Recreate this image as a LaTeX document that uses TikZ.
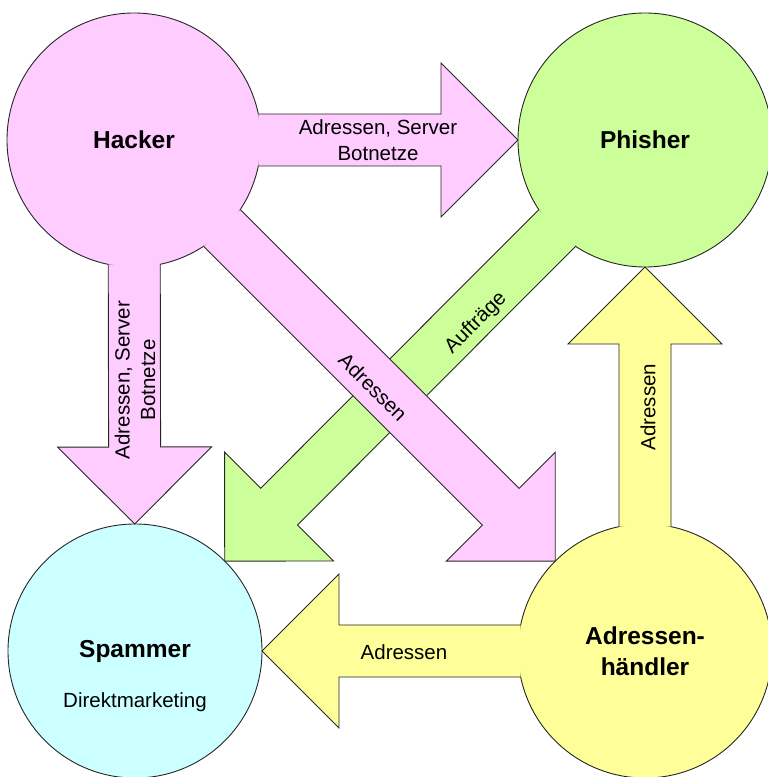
\documentclass[tikz,border=0pt]{standalone}
\usepackage{fontspec}
\setmainfont{Liberation Sans}
\usetikzlibrary{calc}
\definecolor{pinkfill}{RGB}{255,204,255}
\definecolor{greenfill}{RGB}{204,255,153}
\definecolor{cyanfill}{RGB}{204,255,255}
\definecolor{yellowfill}{RGB}{255,255,153}

\begin{document}
\begin{tikzpicture}[x=1pt,y=1pt,
    actor/.style={circle,draw=black!85,line width=0.9pt,minimum size=254pt,inner sep=0pt,
      align=center,font=\fontsize{24.5}{31}\selectfont\bfseries},
    rim/.style={draw=black!85,line width=0.9pt,line join=miter},
    flow/.style={inner sep=0pt,align=center,font=\fontsize{20.5}{25.5}\selectfont}]
    \useasboundingbox (0,0) rectangle (768,777);
    \clip (0,0) rectangle (768,777);
    % Circles
    \node[actor,fill=pinkfill] (hacker) at (134,637) {Hacker};
    \node[actor,fill=greenfill] (phisher) at (645,637) {Phisher};
    \node[actor,fill=cyanfill] (spammer) at (135,126) {Spammer};
    \node[actor,fill=yellowfill] (haendler) at (645,126) {Adressen-\\händler};
    % Arrows
    \foreach \a/\b/\c in {hacker/phisher/pinkfill,hacker/spammer/pinkfill,
        phisher/spammer/greenfill,hacker/haendler/pinkfill,
        haendler/phisher/yellowfill,haendler/spammer/yellowfill} {
      \coordinate (tip) at ($(\b)!127pt!(\a)$);
      \coordinate (foot) at ($(\a)!124.3pt!(\b)$);
      \coordinate (neck) at ($(tip)!77pt!(\a)$);
      \coordinate (l1) at ($(foot)!26pt!90:(\b)$);
      \coordinate (r1) at ($(foot)!26pt!-90:(\b)$);
      \coordinate (l2) at ($(neck)!26pt!90:(\b)$);
      \coordinate (r2) at ($(neck)!26pt!-90:(\b)$);
      \coordinate (l3) at ($(neck)!77pt!90:(\b)$);
      \coordinate (r3) at ($(neck)!77pt!-90:(\b)$);
      \fill[\c] (l1) -- (l2) -- (l3) -- (tip) -- (r3) -- (r2) -- (r1) -- cycle;
      \draw[rim] (l1) -- (l2) -- (l3) -- (tip) -- (r3) -- (r2) -- (r1);
    }
    % Labels
    \node[flow] (spamnote) at ($(spammer)+(0,-51)$) {Direktmarketing};
    \node[flow] (lblhp) at (378,637) {Adressen, Server\\Botnetze};
    \node[flow,rotate=90] (lblhs) at (135,397) {Adressen, Server\\Botnetze};
    \node[flow,rotate=-45] (lblhh) at (373,390) {Adressen};
    \node[flow,rotate=45] (lblps) at (476,454) {Aufträge};
    \node[flow,rotate=90] (lblap) at (648,370) {Adressen};
    \node[flow] (lblas) at (404,125) {Adressen};
\end{tikzpicture}
\end{document}
